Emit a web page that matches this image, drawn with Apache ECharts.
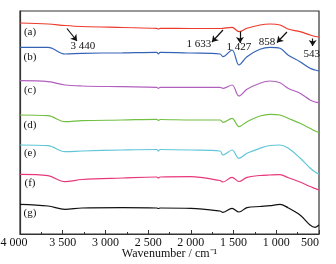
<!DOCTYPE html>
<html>
<head>
<meta charset="utf-8">
<script src="https://cdn.jsdelivr.net/npm/echarts@6/dist/echarts.min.js"></script>
<style>
  html, body { margin: 0; padding: 0; background: #fff; }
  #chart { width: 336px; height: 264px; }
</style>
</head>
<body>
<div id="chart"></div>
<script>
// wavenumbers (cm-1) shared by all spectra
const wavenumbers = [4000, 3672, 3473, 3274, 2800, 2400, 2380, 2360, 2000, 1659, 1624, 1518, 1437, 1343, 1191, 1074, 957, 863, 722, 605, 545, 500];

// stacked transmittance traces (offset, arbitrary units)
const specA = [211, 210, 208.5, 207.5, 206.5, 205.7, 205, 205.7, 205.5, 205.5, 205.7, 206.7, 202.3, 205.7, 209, 210, 209, 205, 202.3, 199, 197.5, 197];
const specB = [186.7, 186.7, 180, 180.7, 181.2, 181.7, 180, 181.7, 181, 180, 177.3, 184, 169, 177.3, 184.7, 186.7, 185.7, 179, 172.3, 165.7, 164, 163];
const specC = [153.3, 152.3, 149, 148, 147.3, 146.7, 145.7, 146.7, 146.7, 146.7, 145.7, 149, 138, 144.7, 150.7, 153, 151.3, 145.7, 140.7, 134, 132, 131.3];
const specD = [119, 118.3, 112.3, 113.3, 114, 114.7, 113.5, 114.5, 114, 114, 111.7, 115.7, 107.3, 112.3, 118, 119.7, 119, 115.7, 110.7, 105.7, 103, 101.5];
const specE = [89, 88.3, 82.3, 83, 84, 84.5, 83, 84.5, 84, 83, 79, 84, 75.7, 80.7, 85.7, 88.5, 89, 86, 76, 66, 62, 60];
const specF = [59.7, 58.3, 52.3, 54.5, 56, 57, 56, 57, 57.3, 53.5, 52, 56.7, 52.5, 56.7, 58.5, 59, 59.3, 56.5, 52, 47.5, 45.5, 44];
const specG = [29.7, 28, 24.7, 26, 26.3, 26, 25.5, 26, 25.7, 23, 21.7, 25.7, 22, 26.3, 27.5, 28.3, 29.7, 26.3, 19, 9, 6.7, 9];

const traceNames = ['(a)', '(b)', '(c)', '(d)', '(e)', '(f)', '(g)'];
const traceLabelY = [202, 177.3, 144, 109, 81, 51, 21];
const traceColors = ['#ee3a2c', '#3463b5', '#b05fbd', '#72c043', '#62c6d8', '#e8387a', '#111111'];

// peak annotations: text, text position, arrow start, arrow end
const peakLabels = ['3 440', '1 633', '1 427', '858', '543'];
const peakTextPos = [[3263, 188.3], [1905, 190], [1437, 186.7], [1109, 191.7], [585, 179.7]];
const arrowFrom = [[3450, 205.5], [1624, 204], [1425, 202.5], [875, 202], [574, 195.5]];
const arrowTo = [[3333, 193], [1753, 192], [1425, 191], [992, 191.5], [574, 188]];

const serif = 'Liberation Serif';
const allSpectra = [specA, specB, specC, specD, specE, specF, specG];

const chart = echarts.init(document.getElementById('chart'));

const series = allSpectra.map((vals, i) => ({
  name: traceNames[i],
  type: 'line',
  data: wavenumbers.map((w, k) => [w, vals[k]]),
  smooth: 0.35,
  showSymbol: false,
  lineStyle: { color: traceColors[i], width: 1.2 },
  z: 3
}));

// curve labels and peak annotations
series.push({
  type: 'scatter',
  data: [],
  silent: true,
  markPoint: {
    symbol: 'circle',
    symbolSize: 0,
    label: { show: true, color: '#111', fontFamily: serif, fontSize: 11, formatter: p => p.name },
    data: traceNames.map((n, i) => ({ name: n, coord: [3883, traceLabelY[i]] }))
      .concat(peakLabels.map((t, i) => ({ name: t, coord: peakTextPos[i] })))
  },
  markLine: {
    symbol: ['none', 'arrow'],
    symbolSize: 6,
    silent: true,
    label: { show: false },
    lineStyle: { color: '#111', width: 1.2, type: 'solid' },
    data: arrowFrom.map((a, i) => [{ coord: a }, { coord: arrowTo[i] }])
  }
});

const fmtTick = v => v >= 1000 ? Math.floor(v / 1000) + ' ' + String(v % 1000).padStart(3, '0') : String(v);

chart.setOption({
  animation: false,
  backgroundColor: '#fff',
  grid: {
    left: 20, right: 17, top: 11, bottom: 30,
    containLabel: false,
    outerBoundsMode: 'none',
    show: true, borderColor: '#333', borderWidth: 1.2
  },
  xAxis: {
    type: 'value',
    inverse: true,
    min: 500,
    max: 4000,
    interval: 500,
    name: 'Wavenumber / cm\u207B\u00B9',
    nameLocation: 'middle',
    nameGap: 14,
    nameMoveOverlap: false,
    nameTextStyle: { fontFamily: serif, fontSize: 12, color: '#111' },
    axisLine: { show: true, lineStyle: { color: '#333', width: 1.2 } },
    axisTick: { show: true, inside: true, length: 4, lineStyle: { color: '#333' } },
    minorTick: { show: true, splitNumber: 2, length: 2, lineStyle: { color: '#333' } },
    splitLine: { show: false },
    axisLabel: {
      margin: 3,
      fontFamily: serif,
      fontSize: 12,
      color: '#111',
      alignMinLabel: 'right',
      alignMaxLabel: 'center',
      formatter: v => v === 4000 ? '{edge|' + fmtTick(v) + '}' : fmtTick(v),
      rich: {
        edge: { fontFamily: serif, fontSize: 12, color: '#111', padding: [0, 12, 0, 0] }
      }
    }
  },
  yAxis: {
    type: 'value',
    min: 0,
    max: 223,
    axisLine: { show: true, lineStyle: { color: '#333', width: 1.2 } },
    axisTick: { show: false },
    axisLabel: { show: false },
    splitLine: { show: false }
  },
  series: series
});
</script>
</body>
</html>
